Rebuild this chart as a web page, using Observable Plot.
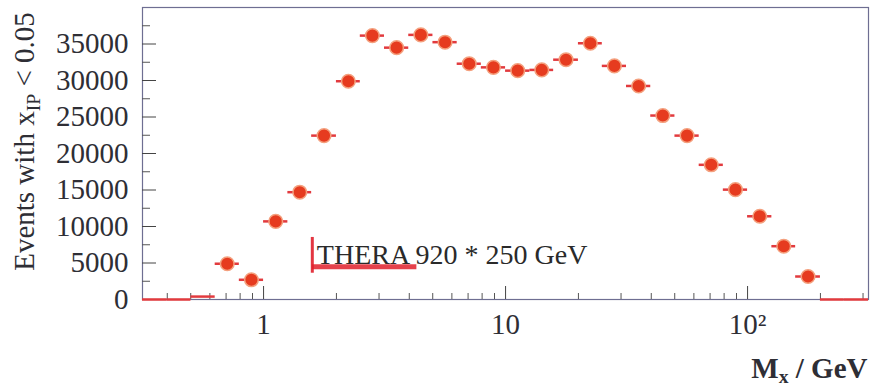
<!DOCTYPE html>
<html><head><meta charset="utf-8">
<script src="https://cdn.jsdelivr.net/npm/d3@7"></script>
<script src="https://cdn.jsdelivr.net/npm/@observablehq/plot@0.6"></script>
<style>
body{margin:0;background:#fff}
svg{display:block}
</style>
</head><body><div id="chart"></div>
<script>
// Bin edges in M_x (GeV), logarithmic bins of 0.1 decade
const binEdges = [0.316, 0.398, 0.501, 0.631, 0.794, 1.0, 1.26, 1.58, 2.0, 2.51, 3.16, 3.98, 5.01, 6.31, 7.94, 10.0, 12.6, 15.8, 20.0, 25.1, 31.6, 39.8, 50.1, 63.1, 79.4, 100, 126, 158, 200, 251, 316];
// Events with x_IP < 0.05 per bin
const events = [0, 0, 400, 4900, 2700, 10700, 14700, 22450, 29900, 36150, 34500, 36250, 35250, 32300, 31800, 31350, 31450, 32850, 35100, 32000, 29250, 25200, 22450, 18450, 15050, 11400, 7300, 3150, 0, 0];

const yTicks = [0, 5000, 10000, 15000, 20000, 25000, 30000, 35000];
const yMinorTicks = [2500, 7500, 12500, 17500, 22500, 27500, 32500, 37500];
const xTicks = [1, 10, 100];
const xTickLabels = ["1", "10", "10²"];
const xMinorTicks = [0.4, 0.5, 0.6, 0.7, 0.8, 0.9, 2, 3, 4, 5, 6, 7, 8, 9, 20, 30, 40, 50, 60, 70, 80, 90, 200, 300];

const yLabelParts = ["Events with x", "IP", " < 0.05"];
const xLabelParts = ["M", "x", " / GeV"];
const annotation = "THERA 920 * 250 GeV";
const annotationPos = [{x: 1.66, y: 4930}];
const markerV = [{x: 1.59, y1: 3600, y2: 8500}];
const markerH = [{x1: 1.59, x2: 4.3, y: 4500}];

const bins = events.map((v, i) => ({lo: binEdges[i], hi: binEdges[i + 1], c: Math.sqrt(binEdges[i] * binEdges[i + 1]), v}));

const serif = "Liberation Serif";
const W = 870, H = 389, mL = 142, mR = 2, mT = 7, mB = 90;
const fw = W - mL - mR, fh = H - mT - mB;
const ink = "#2e2e35";

const yLabel = yLabelParts.join("");
const xLabel = xLabelParts.join("");

const plot = Plot.plot({
  width: W, height: H,
  marginLeft: mL, marginRight: mR, marginTop: mT, marginBottom: mB,
  style: {color: ink, background: "#fff", fontFamily: serif},
  x: {type: "log", domain: [0.316, 316], axis: null},
  y: {domain: [0, 40000], axis: null},
  marks: [
    Plot.frame({stroke: "#6e6e92", strokeWidth: 1.2}),
    Plot.tickX(xTicks, {x: d => d, insetTop: fh - 13, stroke: "#444", strokeWidth: 1}),
    Plot.tickX(xMinorTicks, {x: d => d, insetTop: fh - 6, stroke: "#555", strokeWidth: 1}),
    Plot.tickY(yTicks, {y: d => d, insetRight: fw - 14, stroke: "#444", strokeWidth: 1}),
    Plot.tickY(yMinorTicks, {y: d => d, insetRight: fw - 8, stroke: "#555", strokeWidth: 1}),
    Plot.axisY(yTicks, {tickSize: 0, tickPadding: 14, fontSize: 29, label: null, fill: ink, tickFormat: d => String(d), fontFamily: serif}),
    Plot.text(xTicks, {x: d => d, text: (d, i) => xTickLabels[i], frameAnchor: "bottom", dy: 34, fontSize: 29, fill: ink, fontFamily: serif}),
    Plot.text([yLabel], {text: d => d, frameAnchor: "left", textAnchor: "middle", rotate: -90, dx: -118, dy: -12, fontSize: 29, fill: ink, lineAnchor: "middle", fontFamily: serif}),
    Plot.text([xLabel], {text: d => d, frameAnchor: "bottom-right", textAnchor: "end", lineAnchor: "bottom", dx: -1, dy: 78, fontSize: 29, fontWeight: "bold", fill: ink, fontFamily: serif}),
    // annotation marker
    Plot.ruleY(markerH, {x1: "x1", x2: "x2", y: "y", stroke: "#e0202c", strokeWidth: 5, strokeOpacity: 0.85}),
    Plot.ruleX(markerV, {x: "x", y1: "y1", y2: "y2", stroke: "#e0202c", strokeWidth: 3, strokeOpacity: 0.9}),
    Plot.text(annotationPos, {x: "x", y: "y", text: () => annotation, textAnchor: "start", lineAnchor: "bottom", fontSize: 28, fill: "#2a2a2a", fontFamily: serif}),
    // data
    Plot.ruleY(bins, {x1: "lo", x2: "hi", y: "v", stroke: "#e23a3e", strokeWidth: 2.5}),
    Plot.dot(bins.filter(d => d.v > 1000), {x: "c", y: "v", r: 6.8, fill: "#e63b1f", stroke: "#f4a07e", strokeWidth: 1.5})
  ]
});

// subscripts in axis labels
function subscriptify(svg, full, parts) {
  let found = null;
  svg.querySelectorAll("text").forEach(t => {
    if (t.textContent === full) {
      t.textContent = "";
      const ns = "http://www.w3.org/2000/svg";
      const a = document.createElementNS(ns, "tspan"); a.textContent = parts[0];
      const b = document.createElementNS(ns, "tspan"); b.textContent = parts[1];
      b.setAttribute("font-size", "0.68em"); b.setAttribute("dy", "0.3em");
      const c = document.createElementNS(ns, "tspan"); c.textContent = parts[2];
      c.setAttribute("dy", "-0.204em");
      t.append(a, b, c);
      found = t;
    }
  });
  return found;
}
const yl = subscriptify(plot, yLabel, yLabelParts);
subscriptify(plot, xLabel, xLabelParts);

document.getElementById("chart").append(plot);
// keep the rotated label inside the picture
if (yl) {
  const len = yl.getComputedTextLength();
  if (len > 275) yl.setAttribute("font-size", (29 * 275 / len).toFixed(1));
}
</script>
</body></html>
